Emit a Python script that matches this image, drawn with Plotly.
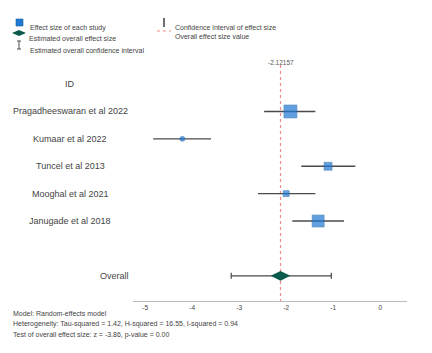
import plotly.graph_objects as go

# ---- data ----
studies = ["Pragadheeswaran et al 2022", "Kumaar et al 2022", "Tuncel et al 2013",
           "Mooghal et al 2021", "Janugade et al 2018"]
effect = [-1.91, -4.21, -1.11, -2.00, -1.32]
ci_low = [-2.47, -4.83, -1.68, -2.60, -1.87]
ci_high = [-1.38, -3.60, -0.53, -1.38, -0.77]
weights = [13, 5, 8, 6, 12]
symbols = ["square", "circle", "square", "square", "square"]

overall_label = "Overall"
overall_effect = -2.12157
overall_low = -3.17
overall_high = -1.04

x_ticks = [-5, -4, -3, -2, -1, 0]
stats_lines = [
    "Model: Random-effects model",
    "Heterogeneity: Tau-squared = 1.42, H-squared = 16.55, I-squared = 0.94",
    "Test of overall effect size: z = -3.86, p-value = 0.00",
]

W, H = 432, 353
FONT = "Liberation Sans, Arial, sans-serif"
BLUE = "#1f78d4"
GREEN = "#0b5a4c"
GRAY = "#4a4a4a"
RED = "#f28a8a"

rows = list(range(1, len(studies) + 1))
overall_row = len(studies) + 2

fig = go.Figure()

fig.add_trace(go.Scatter(
    x=effect, y=rows, mode="markers",
    marker=dict(symbol=symbols, size=weights, color=BLUE,
                line=dict(color="#1a5a9a", width=0.6)),
    error_x=dict(type="data", symmetric=False,
                 array=[h - e for h, e in zip(ci_high, effect)],
                 arrayminus=[e - l for e, l in zip(effect, ci_low)],
                 color=GRAY, thickness=1.4, width=0),
    showlegend=False, hoverinfo="skip"))

fig.add_trace(go.Scatter(
    x=[overall_effect], y=[overall_row], mode="markers",
    marker=dict(symbol="diamond-wide", size=14, color=GREEN),
    error_x=dict(type="data", symmetric=False,
                 array=[overall_high - overall_effect],
                 arrayminus=[overall_effect - overall_low],
                 color=GRAY, thickness=1.2, width=3),
    showlegend=False, hoverinfo="skip"))

def px(x):
    return x / W

def py(y):
    return 1 - y / H

annotations = []
shapes = []

# vertical red line at overall effect
shapes.append(dict(type="line", xref="x", yref="y", x0=overall_effect, x1=overall_effect,
                   y0=-0.7, y1=7.92, layer="below",
                   line=dict(color=RED, width=1.2, dash="3px,3px")))
annotations.append(dict(xref="x", yref="paper", x=overall_effect, y=py(57),
                        text=f"{overall_effect:.5f}", showarrow=False,
                        font=dict(size=6.5, color="#555", family=FONT)))

label_font = dict(size=9, color="#444", family=FONT)
# row labels
annotations.append(dict(xref="paper", yref="y", x=px(70), y=0, text="ID", showarrow=False,
                        xanchor="center", font=label_font))
for r, s in zip(rows, studies):
    annotations.append(dict(xref="paper", yref="y", x=px(70), y=r, text=s, showarrow=False,
                            xanchor="center", font=label_font))
annotations.append(dict(xref="paper", yref="y", x=px(114), y=overall_row, text=overall_label,
                        xanchor="center", showarrow=False, font=label_font))

# bottom stats text
for yy, t in zip([319, 330, 341], stats_lines):
    annotations.append(dict(xref="paper", yref="paper", x=px(11), y=py(yy), xanchor="left",
                            text=t, showarrow=False,
                            font=dict(size=7, color="#444", family=FONT)))

# legend
leg_font = dict(size=7, color="#444", family=FONT)
shapes.append(dict(type="rect", xref="paper", yref="paper", x0=px(16), x1=px(23), y0=py(26), y1=py(19),
                   fillcolor=BLUE, line=dict(color="#1a5a9a", width=0.6)))
shapes.append(dict(type="path", xref="paper", yref="paper",
                   path=f"M {px(12)},{py(33)} L {px(19)},{py(30)} L {px(26)},{py(33)} L {px(19)},{py(36)} Z",
                   fillcolor=GREEN, line=dict(color=GREEN, width=0)))
for (x0, y0, x1, y1) in [(19, 41, 19, 49), (17, 41, 21, 41), (17, 49, 21, 49)]:
    shapes.append(dict(type="line", xref="paper", yref="paper", x0=px(x0), x1=px(x1), y0=py(y0), y1=py(y1),
                       line=dict(color=GRAY, width=1)))
shapes.append(dict(type="line", xref="paper", yref="paper", x0=px(164), x1=px(164), y0=py(18), y1=py(27),
                   line=dict(color=GRAY, width=1.6)))
shapes.append(dict(type="line", xref="paper", yref="paper", x0=px(157), x1=px(171), y0=py(31), y1=py(31),
                   line=dict(color=RED, width=1, dash="3px,3px")))
for (xx, yy, t) in [(28, 22, "Effect size of each study"),
                    (27, 33, "Estimated overall effect size"),
                    (28, 45, "Estimated overall confidence interval"),
                    (173, 22, "Confidence interval of effect size"),
                    (173, 31, "Overall effect size value")]:
    annotations.append(dict(xref="paper", yref="paper", x=px(xx), y=py(yy), xanchor="left",
                            text=t, showarrow=False, font=leg_font))

fig.update_layout(
    width=W, height=H, margin=dict(l=0, r=0, t=0, b=0),
    paper_bgcolor="white", plot_bgcolor="white",
    xaxis=dict(domain=[px(133), px(407)], range=[-5.26, 0.57], tickvals=x_ticks,
               ticktext=[str(v) for v in x_ticks], showgrid=False, zeroline=False,
               showline=True, linecolor="#bbbbbb", linewidth=1, ticks="",
               tickfont=dict(size=6.5, color="#444", family=FONT), anchor="y"),
    yaxis=dict(domain=[1 - 301 / H, 1], range=[7.92, -3.07], visible=False,
               showgrid=False, zeroline=False),
    shapes=shapes, annotations=annotations,
)

fig.write_html("out.html")
